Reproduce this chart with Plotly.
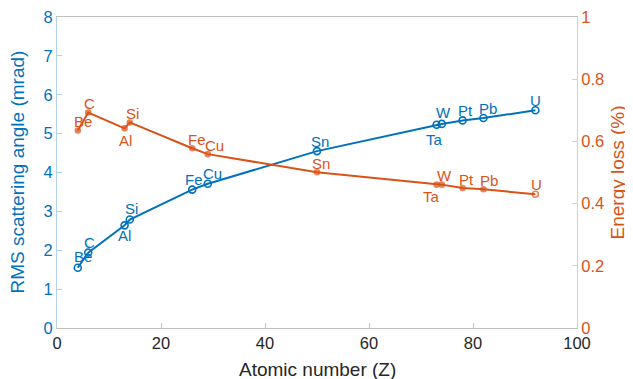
import plotly.graph_objects as go

elements = ["Be", "C", "Al", "Si", "Fe", "Cu", "Sn", "Ta", "W", "Pt", "Pb", "U"]
atomic_number = [4, 6, 13, 14, 26, 29, 50, 73, 74, 78, 82, 92]
rms_angle = [1.55, 1.94, 2.64, 2.79, 3.56, 3.71, 4.55, 5.23, 5.25, 5.34, 5.40, 5.60]
energy_loss = [0.635, 0.693, 0.642, 0.661, 0.578, 0.559, 0.501, 0.461, 0.461, 0.450, 0.446, 0.430]

# label offsets in screen pixels (dx, dy up)
blue_off = [(5, 11), (1, 10), (0, -10), (2, 11), (2, 10), (5, 10), (3, 10),
            (-2, -15), (2, 11), (3, 10), (5, 10), (0, 10)]
orange_off = [(5, 9), (1, 9), (1, -12), (3, 9), (5, 9), (7, 9), (4, 9),
              (-5, -12), (3, 9), (4, 9), (6, 9), (1, 10)]

BLUE = "#0072BD"
ORANGE = "#D95319"
FONT = "Liberation Sans, Arial, sans-serif"

fig = go.Figure()
fig.add_trace(go.Scatter(
    x=atomic_number, y=rms_angle, mode="lines+markers",
    line=dict(color=BLUE, width=2),
    marker=dict(symbol="circle-open", size=7, color=BLUE, line=dict(width=1.6)),
    showlegend=False, yaxis="y"))
fig.add_trace(go.Scatter(
    x=atomic_number, y=energy_loss, mode="lines+markers",
    line=dict(color=ORANGE, width=2),
    marker=dict(symbol=["circle"] * (len(elements) - 1) + ["circle-open"],
                size=[5] * (len(elements) - 1) + [6], color=ORANGE, line=dict(width=1.6, color=ORANGE)),
    showlegend=False, yaxis="y2"))

annotations = []
for name, x, y, (dx, dy) in zip(elements, atomic_number, rms_angle, blue_off):
    annotations.append(dict(x=x, y=y, xref="x", yref="y", text=name, showarrow=False,
                            xshift=dx, yshift=dy, font=dict(family=FONT, size=15, color=BLUE)))
for name, x, y, (dx, dy) in zip(elements, atomic_number, energy_loss, orange_off):
    annotations.append(dict(x=x, y=y, xref="x", yref="y2", text=name, showarrow=False,
                            xshift=dx, yshift=dy, font=dict(family=FONT, size=15, color=ORANGE)))

# axis titles
annotations.append(dict(x=0.5, y=0, xref="paper", yref="paper", text="Atomic number (Z)",
                        showarrow=False, yshift=-41, xanchor="center", yanchor="middle",
                        font=dict(family=FONT, size=19, color="#262626")))
annotations.append(dict(x=0, y=0.5, xref="paper", yref="paper", text="RMS scattering angle (mrad)",
                        showarrow=False, xshift=-40, textangle=-90, xanchor="center", yanchor="middle",
                        font=dict(family=FONT, size=19, color=BLUE)))
annotations.append(dict(x=1, y=0.5, xref="paper", yref="paper", text="Energy loss (%)",
                        showarrow=False, xshift=40, textangle=-90, xanchor="center", yanchor="middle",
                        font=dict(family=FONT, size=19, color=ORANGE)))

# page body has an 8px default margin, so the figure is sized to fit the window
fig.update_layout(
    width=625, height=371,
    margin=dict(l=49, r=56, t=9, b=51, autoexpand=False),
    paper_bgcolor="white", plot_bgcolor="white",
    font=dict(family=FONT, size=16.5, color="#262626"),
    annotations=annotations,
    xaxis=dict(range=[0, 100], dtick=20, showgrid=False, zeroline=False, automargin=False,
               showline=True, linecolor="#c0c0c0", linewidth=1, mirror=True,
               ticks="inside", ticklen=5, tickcolor="#c0c0c0", ticklabeloverflow="allow",
               tickfont=dict(size=16.5, color="#262626")),
    yaxis=dict(range=[0, 8], dtick=1, showgrid=False, zeroline=False, automargin=False,
               showline=True, linecolor="#b3d3ec", linewidth=1, ticklabeloverflow="allow",
               ticks="inside", ticklen=5, tickcolor="#b3d3ec",
               tickfont=dict(size=16.5, color=BLUE)),
    yaxis2=dict(range=[0, 1], dtick=0.2, overlaying="y", side="right", showgrid=False, zeroline=False,
                automargin=False, ticklabeloverflow="allow",
                showline=True, linecolor="#f4c7b3", linewidth=1,
                ticks="inside", ticklen=5, tickcolor="#f4c7b3",
                tickfont=dict(size=16.5, color=ORANGE)),
)

fig.write_html("out.html")
